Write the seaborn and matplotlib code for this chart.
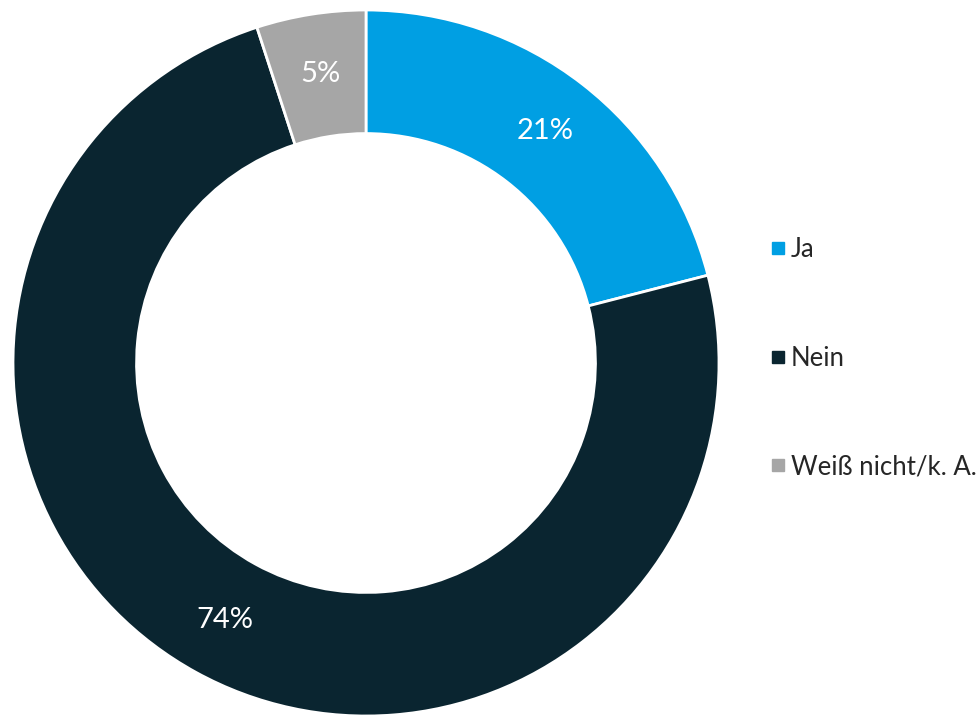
import matplotlib
matplotlib.use("Agg")
import numpy as np
import matplotlib.pyplot as plt
from matplotlib.lines import Line2D
import seaborn as sns

# Survey answers
categories = ["Ja", "Nein", "Weiß nicht/k. A."]
shares = [21, 74, 5]
pct_labels = ["21%", "74%", "5%"]
colors = ["#009FE3", "#0A2530", "#A6A6A6"]

sns.set_theme(style="white")
plt.rcParams["font.family"] = ["Lato", "DejaVu Sans"]

fig = plt.figure(figsize=(9.76, 7.16), dpi=100)
ax = fig.add_axes([13 / 976, 0, 706 / 976, 706 / 716])

wedges, _ = ax.pie(
    shares,
    colors=colors,
    startangle=90,
    counterclock=False,
    radius=1.0,
    wedgeprops=dict(width=0.35, edgecolor="white", linewidth=2),
)

# percentage labels inside the ring
for w, lab in zip(wedges, pct_labels):
    mid = np.deg2rad((w.theta1 + w.theta2) / 2)
    r = 0.83
    ax.text(r * np.cos(mid), r * np.sin(mid), lab, ha="center", va="center",
            color="white", fontsize=21)

ax.set_xlim(-1, 1)
ax.set_ylim(-1, 1)
ax.set_aspect("equal")
ax.axis("off")

handles = [Line2D([0], [0], marker="s", linestyle="", markersize=8,
                  markerfacecolor=c, markeredgecolor=c) for c in colors]
fig.legend(handles, categories, loc="center left", bbox_to_anchor=(0.776, 0.5),
           frameon=False, fontsize=18.5, handlelength=0.6, handletextpad=0.2,
           labelspacing=3.25, borderpad=0)

fig.savefig("out.png", dpi=100, facecolor="white")
